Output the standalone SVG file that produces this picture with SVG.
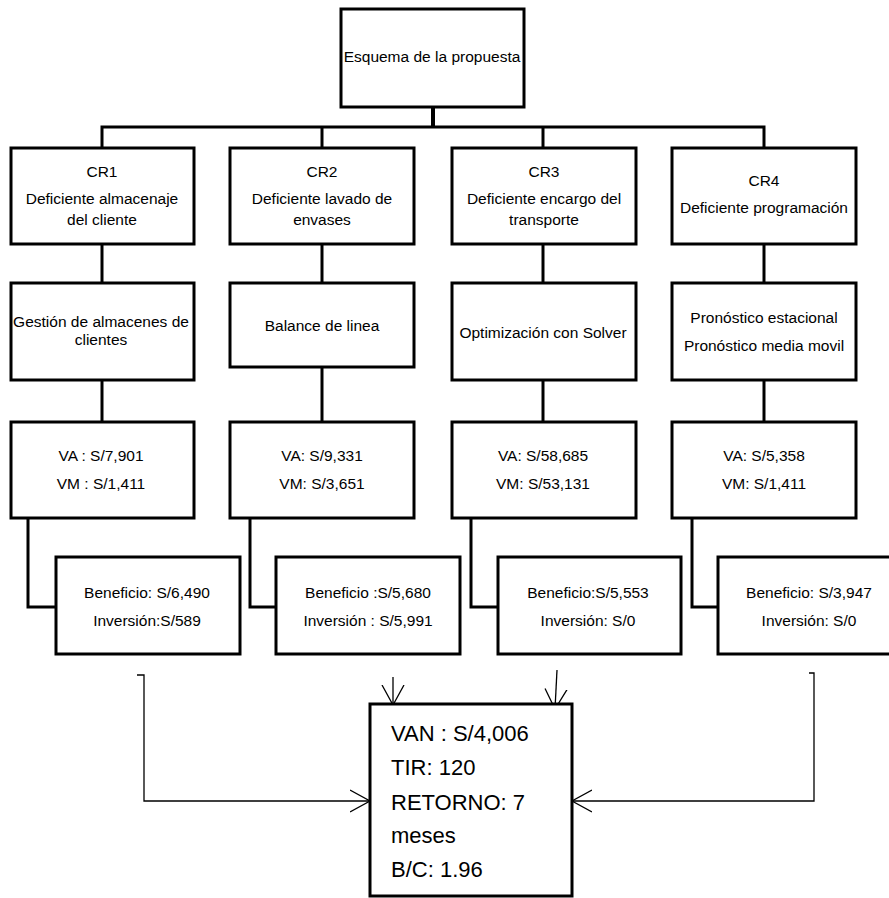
<svg xmlns="http://www.w3.org/2000/svg" width="889" height="898" viewBox="0 0 889 898">
<style>
.box{fill:#fff;stroke:#000;stroke-width:3}
.t{font-family:"Liberation Sans",Arial,sans-serif;font-size:15.5px;fill:#000;text-anchor:middle}
.big{font-family:"Liberation Sans",Arial,sans-serif;font-size:22px;fill:#000}
.c{fill:none;stroke:#000;stroke-width:3}
.a{fill:none;stroke:#000;stroke-width:1.3}
</style>
<defs>
<marker id="arr" viewBox="0 0 20 24" refX="20" refY="12" markerWidth="20" markerHeight="24" markerUnits="userSpaceOnUse" orient="auto">
<path d="M0,1 L20,12 L0,23" fill="none" stroke="#000" stroke-width="1.3"/>
</marker>
</defs>
<rect width="889" height="898" fill="#fff"/>
<g id="connectors">
<line x1="433" y1="107" x2="433" y2="127" stroke="#000" stroke-width="4"/>
<polyline class="c" points="102,148 102,127 764,127 764,148"/>
<line class="c" x1="322" y1="127" x2="322" y2="148"/>
<line class="c" x1="543" y1="127" x2="543" y2="148"/>
<line class="c" x1="102" y1="244" x2="102" y2="283"/>
<line class="c" x1="322" y1="244" x2="322" y2="283"/>
<line class="c" x1="543" y1="244" x2="543" y2="283"/>
<line class="c" x1="764" y1="244" x2="764" y2="283"/>
<line class="c" x1="102" y1="380" x2="102" y2="422"/>
<line class="c" x1="322" y1="367" x2="322" y2="422"/>
<line class="c" x1="543" y1="380" x2="543" y2="422"/>
<line class="c" x1="764" y1="380" x2="764" y2="422"/>
<polyline class="c" points="28,518 28,607 56,607"/>
<polyline class="c" points="250,518 250,607 276,607"/>
<polyline class="c" points="471,518 471,607 498,607"/>
<polyline class="c" points="692,518 692,607 718,607"/>
<polyline class="a" points="137,675 144,675 144,801 370,801" marker-end="url(#arr)"/>
<polyline class="a" points="809,673 814,673 814,801 572,801" marker-end="url(#arr)"/>
<line class="a" x1="393" y1="677" x2="393" y2="705" marker-end="url(#arr)"/>
<line class="a" x1="557" y1="670" x2="555" y2="709" marker-end="url(#arr)"/>
</g>
<g id="top">
<rect class="box" x="341" y="9" width="183" height="98"/>
<text class="t" x="432" y="62">Esquema de la propuesta</text>
</g>
<g id="cr1">
<rect class="box" x="11" y="148" width="183" height="96"/>
<text class="t" x="102" y="177">CR1</text>
<text class="t" x="102" y="204">Deficiente almacenaje</text>
<text class="t" x="102" y="225">del cliente</text>
</g>
<g id="cr2">
<rect class="box" x="230" y="148" width="184" height="96"/>
<text class="t" x="322" y="177">CR2</text>
<text class="t" x="322" y="204">Deficiente lavado de</text>
<text class="t" x="322" y="225">envases</text>
</g>
<g id="cr3">
<rect class="box" x="452" y="148" width="184" height="96"/>
<text class="t" x="544" y="177">CR3</text>
<text class="t" x="544" y="204">Deficiente encargo del</text>
<text class="t" x="544" y="225">transporte</text>
</g>
<g id="cr4">
<rect class="box" x="672" y="148" width="184" height="96"/>
<text class="t" x="764" y="186">CR4</text>
<text class="t" x="764" y="213">Deficiente programación</text>
</g>
<g id="sol1">
<rect class="box" x="11" y="283" width="183" height="97"/>
<text class="t" x="101" y="327">Gestión de almacenes de</text>
<text class="t" x="101" y="345">clientes</text>
</g>
<g id="sol2">
<rect class="box" x="230" y="283" width="184" height="84"/>
<text class="t" x="322" y="331">Balance de linea</text>
</g>
<g id="sol3">
<rect class="box" x="452" y="283" width="184" height="97"/>
<text class="t" x="543" y="338">Optimización con Solver</text>
</g>
<g id="sol4">
<rect class="box" x="672" y="283" width="184" height="97"/>
<text class="t" x="764" y="323">Pronóstico estacional</text>
<text class="t" x="764" y="351">Pronóstico media movil</text>
</g>
<g id="va1">
<rect class="box" x="11" y="422" width="183" height="96"/>
<text class="t" x="101" y="461">VA : S/7,901</text>
<text class="t" x="101" y="489">VM : S/1,411</text>
</g>
<g id="va2">
<rect class="box" x="230" y="422" width="184" height="96"/>
<text class="t" x="322" y="461">VA: S/9,331</text>
<text class="t" x="322" y="489">VM: S/3,651</text>
</g>
<g id="va3">
<rect class="box" x="452" y="422" width="184" height="96"/>
<text class="t" x="543" y="461">VA: S/58,685</text>
<text class="t" x="543" y="489">VM: S/53,131</text>
</g>
<g id="va4">
<rect class="box" x="672" y="422" width="184" height="96"/>
<text class="t" x="764" y="461">VA: S/5,358</text>
<text class="t" x="764" y="489">VM: S/1,411</text>
</g>
<g id="ben1">
<rect class="box" x="56" y="557" width="184" height="97"/>
<text class="t" x="147" y="598">Beneficio: S/6,490</text>
<text class="t" x="147" y="626">Inversión:S/589</text>
</g>
<g id="ben2">
<rect class="box" x="276" y="557" width="184" height="97"/>
<text class="t" x="368" y="598">Beneficio :S/5,680</text>
<text class="t" x="368" y="626">Inversión : S/5,991</text>
</g>
<g id="ben3">
<rect class="box" x="498" y="557" width="183" height="97"/>
<text class="t" x="588" y="598">Beneficio:S/5,553</text>
<text class="t" x="588" y="626">Inversión: S/0</text>
</g>
<g id="ben4">
<rect class="box" x="718" y="557" width="184" height="97"/>
<text class="t" x="809" y="598">Beneficio: S/3,947</text>
<text class="t" x="809" y="626">Inversión: S/0</text>
</g>
<g id="result">
<rect class="box" x="370" y="704" width="202" height="192"/>
<text class="big" x="391" y="741">VAN : S/4,006</text>
<text class="big" x="391" y="775">TIR: 120</text>
<text class="big" x="391" y="810">RETORNO: 7</text>
<text class="big" x="391" y="843">meses</text>
<text class="big" x="391" y="877">B/C: 1.96</text>
</g>
</svg>
